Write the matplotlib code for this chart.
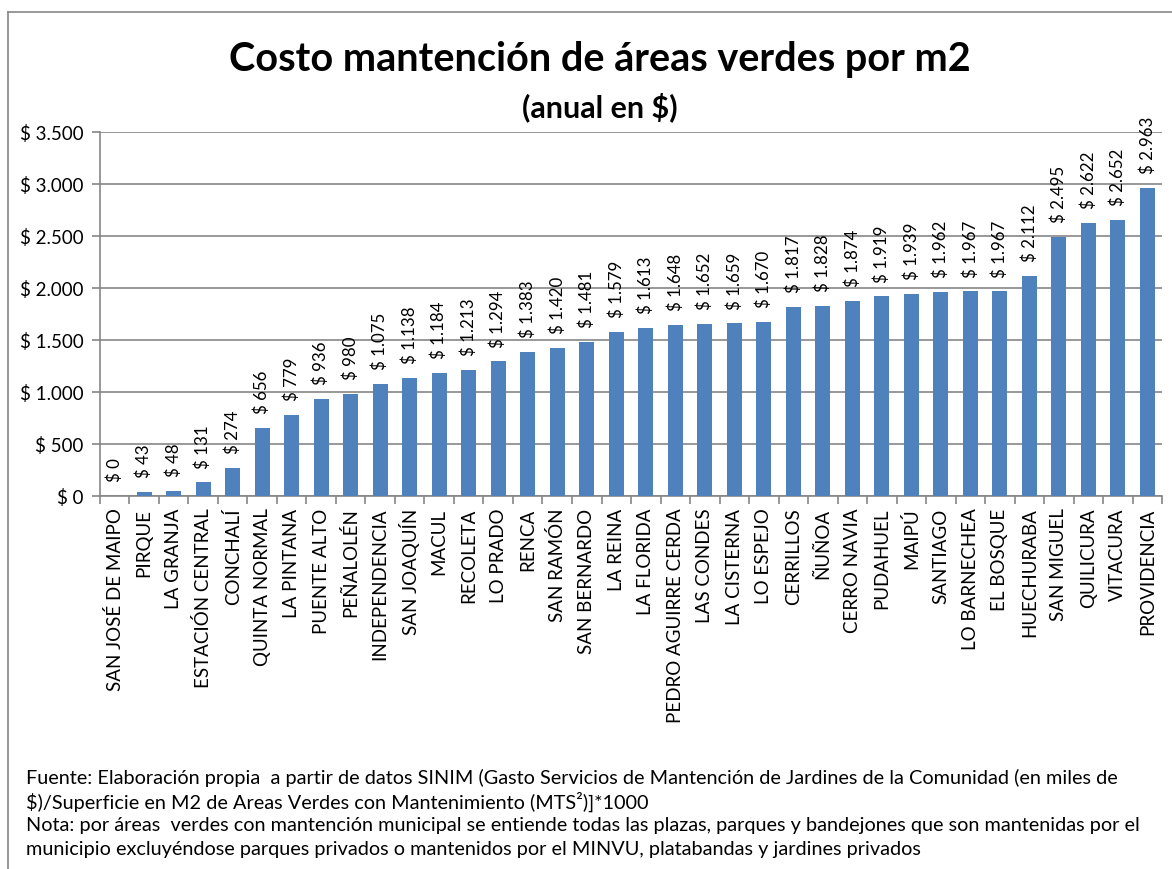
import matplotlib.pyplot as plt
from matplotlib.lines import Line2D

comunas = [
    "SAN JOSÉ DE MAIPO", "PIRQUE", "LA GRANJA", "ESTACIÓN CENTRAL", "CONCHALÍ",
    "QUINTA NORMAL", "LA PINTANA", "PUENTE ALTO", "PEÑALOLÉN", "INDEPENDENCIA",
    "SAN JOAQUÍN", "MACUL", "RECOLETA", "LO PRADO", "RENCA", "SAN RAMÓN",
    "SAN BERNARDO", "LA REINA", "LA FLORIDA", "PEDRO AGUIRRE CERDA", "LAS CONDES",
    "LA CISTERNA", "LO ESPEJO", "CERRILLOS", "ÑUÑOA", "CERRO NAVIA", "PUDAHUEL",
    "MAIPÚ", "SANTIAGO", "LO BARNECHEA", "EL BOSQUE", "HUECHURABA", "SAN MIGUEL",
    "QUILICURA", "VITACURA", "PROVIDENCIA",
]
costo = [
    0, 43, 48, 131, 274, 656, 779, 936, 980, 1075, 1138, 1184, 1213, 1294, 1383,
    1420, 1481, 1579, 1613, 1648, 1652, 1659, 1670, 1817, 1828, 1874, 1919, 1939,
    1962, 1967, 1967, 2112, 2495, 2622, 2652, 2963,
]
yticks = [0, 500, 1000, 1500, 2000, 2500, 3000, 3500]

nota = [
    "Fuente: Elaboración propia  a partir de datos SINIM (Gasto Servicios de Mantención de Jardines de la Comunidad (en miles de",
    "$)/Superficie en M2 de Areas Verdes con Mantenimiento (MTS²)]*1000",
    "Nota: por áreas  verdes con mantención municipal se entiende todas las plazas, parques y bandejones que son mantenidas por el",
    "municipio excluyéndose parques privados o mantenidos por el MINVU, platabandas y jardines privados",
]


def pesos(v):
    return "$ " + f"{v:,}".replace(",", ".")


plt.rcParams["font.family"] = ["Lato", "DejaVu Sans"]
grey = "#868686"

fig = plt.figure(figsize=(11.72, 8.69), dpi=100)
ax = fig.add_axes([0.0853, 0.4292, 0.9062, 0.4189])

x = range(len(comunas))
ax.bar(x, costo, width=0.5, color="#4F81BD", zorder=3)
for i, v in zip(x, costo):
    ax.annotate(pesos(v), (i, v), xytext=(0, 10), textcoords="offset points",
                rotation=90, ha="center", va="bottom", fontsize=12.2)

ax.set_xlim(-0.5, len(comunas) - 0.5)
ax.set_ylim(0, 3500)
ax.set_yticks(yticks)
ax.set_yticklabels([pesos(t) for t in yticks], fontsize=13.5)
ax.yaxis.grid(True, color=grey, linewidth=1.2, zorder=0)
ax.set_xticks(list(x))
ax.set_xticklabels(comunas, rotation=90, fontsize=13.5)
ax.set_xticks([i + 0.5 for i in range(-1, len(comunas))], minor=True)
ax.tick_params(axis="x", which="major", length=0, pad=9)
ax.tick_params(axis="x", which="minor", length=6, color=grey, width=1.2)
ax.tick_params(axis="y", length=6, color=grey, width=1.2, pad=6)
for s in ["top", "right"]:
    ax.spines[s].set_visible(False)
for s in ["left", "bottom"]:
    ax.spines[s].set_color(grey)
    ax.spines[s].set_linewidth(1.2)

fig.text(0.512, 0.931, "Costo mantención de áreas verdes por m2", ha="center", va="center",
         fontsize=28.5, fontweight="bold")
fig.text(0.512, 0.877, "(anual en $)", ha="center", va="center", fontsize=22, fontweight="bold")

for k, line in enumerate(nota):
    fig.text(0.022, 1 - (778 + 24 * k) / 869, line, ha="left", va="center", fontsize=14.3)

# chart frame
fig.add_artist(Line2D([8 / 1172, 1], [1 - 12 / 869] * 2, color=grey, linewidth=1.2))
fig.add_artist(Line2D([8 / 1172] * 2, [0, 1 - 12 / 869], color=grey, linewidth=1.2))

fig.savefig("out.png", dpi=100)
